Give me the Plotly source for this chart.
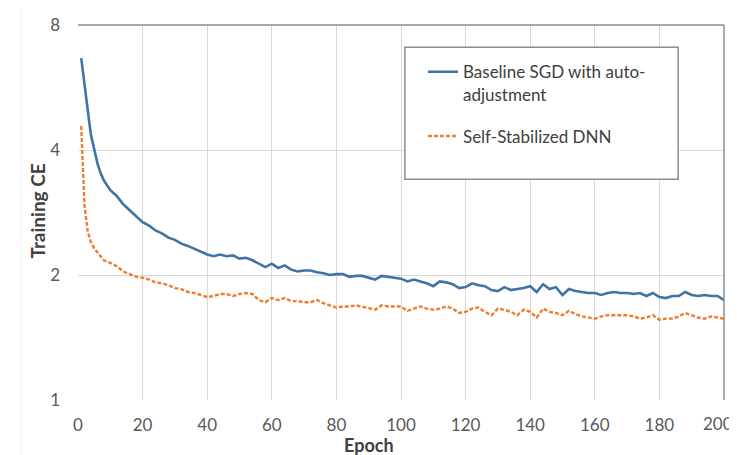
import plotly.graph_objects as go

epochs = list(range(1, 9)) + list(range(10, 201, 2))

baseline = [6.66, 5.85, 5.0, 4.35, 4.0, 3.72, 3.52, 3.38,
            3.2, 3.10, 2.96, 2.86, 2.76, 2.68, 2.63, 2.56, 2.52, 2.46,
            2.43, 2.38, 2.35, 2.31, 2.27, 2.24, 2.22, 2.24, 2.22, 2.23,
            2.19, 2.20, 2.17, 2.13, 2.09, 2.13, 2.08, 2.11, 2.06, 2.04,
            2.05, 2.05, 2.03, 2.02, 2.00, 2.01, 2.01, 1.98, 1.99, 1.99,
            1.97, 1.95, 1.99, 1.98, 1.97, 1.96, 1.93, 1.95, 1.93, 1.91,
            1.88, 1.93, 1.92, 1.90, 1.86, 1.87, 1.91, 1.89, 1.88, 1.84,
            1.83, 1.87, 1.84, 1.85, 1.86, 1.88, 1.82, 1.90, 1.85, 1.87,
            1.79, 1.85, 1.83, 1.82, 1.81, 1.81, 1.79, 1.81, 1.82, 1.81,
            1.81, 1.80, 1.81, 1.78, 1.81, 1.77, 1.76, 1.78, 1.78, 1.82,
            1.79, 1.78, 1.79, 1.78, 1.78, 1.74]

stabilized = [4.57, 2.95, 2.55, 2.40, 2.32, 2.27, 2.22, 2.17,
              2.14, 2.10, 2.04, 2.01, 1.98, 1.97, 1.95, 1.92, 1.91, 1.89,
              1.86, 1.85, 1.82, 1.81, 1.79, 1.77, 1.78, 1.80, 1.80, 1.78,
              1.80, 1.81, 1.80, 1.74, 1.72, 1.76, 1.74, 1.76, 1.73, 1.73,
              1.72, 1.72, 1.74, 1.71, 1.69, 1.67, 1.68, 1.68, 1.69, 1.68,
              1.665, 1.65, 1.69, 1.68, 1.68, 1.68, 1.64, 1.66, 1.68, 1.66,
              1.65, 1.66, 1.68, 1.66, 1.62, 1.63, 1.66, 1.67, 1.63, 1.60,
              1.66, 1.65, 1.63, 1.60, 1.65, 1.63, 1.58, 1.66, 1.63, 1.62,
              1.60, 1.64, 1.61, 1.59, 1.58, 1.57, 1.59, 1.60, 1.60, 1.60,
              1.60, 1.59, 1.57, 1.58, 1.60, 1.56, 1.57, 1.57, 1.59, 1.62,
              1.60, 1.58, 1.57, 1.59, 1.58, 1.57]

x_ticks = [0, 20, 40, 60, 80, 100, 120, 140, 160, 180, 200]
x_tick_text = ["0", "20", "40", "60", "80", "100", "120", "140", "160", "180", ""]
last_x_label = "200"
y_ticks = [1, 2, 4, 8]
y_tick_text = ["1", "2", "4", "8"]

series_names = ["Baseline SGD with auto-<br>adjustment", "Self-Stabilized DNN"]

FONT = "Lato"
TXT = "#404040"
TICK = "#595959"

fig = go.Figure()
fig.add_trace(go.Scatter(x=epochs, y=baseline, mode="lines", name=series_names[0],
                         legendgroup="a",
                         line=dict(color="#3F74A6", width=2.6)))
fig.add_trace(go.Scatter(x=epochs, y=stabilized, mode="lines", name=series_names[1],
                         legendgroup="b",
                         line=dict(color="#ED7D31", width=2.4, dash="4px,2px")))

# page body has an 8px margin, so the figure is offset by (8, 8)
fig.update_layout(
    width=729, height=447,
    margin=dict(l=70, r=13, t=17, b=55, autoexpand=False),
    paper_bgcolor="white", plot_bgcolor="white",
    font=dict(family=FONT, color=TICK, size=17),
    showlegend=True,
    legend=dict(x=0.534, y=0.922, xanchor="left", yanchor="top",
                bgcolor="rgba(0,0,0,0)", borderwidth=0,
                font=dict(family=FONT, size=17, color=TXT),
                itemwidth=30, valign="top", tracegroupgap=17,
                traceorder="grouped"),
    xaxis=dict(range=[0, 200.0001], tickvals=x_ticks, ticktext=x_tick_text,
               showgrid=True, gridcolor="#D9D9D9", gridwidth=1, zeroline=False,
               showline=False, ticks="", ticklabelstandoff=13,
               automargin=False, tickfont=dict(size=17, color=TICK)),
    yaxis=dict(type="log", range=[0, 0.90309], tickvals=y_ticks, ticktext=y_tick_text,
               showgrid=True, gridcolor="#D9D9D9", gridwidth=1, zeroline=False,
               showline=False, ticks="", ticklabelstandoff=17, automargin=False,
               tickfont=dict(size=17, color=TICK)),
    shapes=[
        dict(type="rect", xref="x domain", yref="y domain", x0=0.506, x1=0.929,
             y0=0.589, y1=0.941, line=dict(color="#8C8C8C", width=1.5),
             fillcolor="white", layer="above"),
        dict(type="line", xref="x domain", yref="y domain", x0=0, x1=1, y0=1, y1=1,
             line=dict(color="#8C8C8C", width=1.5)),
        dict(type="line", xref="x domain", yref="y domain", x0=1, x1=1, y0=0, y1=1,
             line=dict(color="#8C8C8C", width=1.5)),
        dict(type="line", xref="paper", yref="paper", x0=-0.088, x1=-0.088, y0=-0.147, y1=1.045,
             line=dict(color="#EEEEEE", width=1)),
    ],
    annotations=[
        dict(text=last_x_label, xref="x", yref="paper", x=x_ticks[-1], y=-0.063,
             xanchor="right", yanchor="middle", xshift=11, showarrow=False,
             font=dict(family=FONT, size=17, color=TICK)),
        dict(text="<b>Epoch</b>", xref="paper", yref="paper", x=0.45, y=-0.12,
             xanchor="center", yanchor="middle", showarrow=False,
             font=dict(family=FONT, size=18, color=TXT)),
        dict(text="<b>Training CE</b>", xref="paper", yref="paper", x=-0.062, y=0.505,
             xanchor="center", yanchor="middle", textangle=-90, showarrow=False,
             font=dict(family=FONT, size=19, color=TXT)),
    ],
)

fig.write_html("out.html")
